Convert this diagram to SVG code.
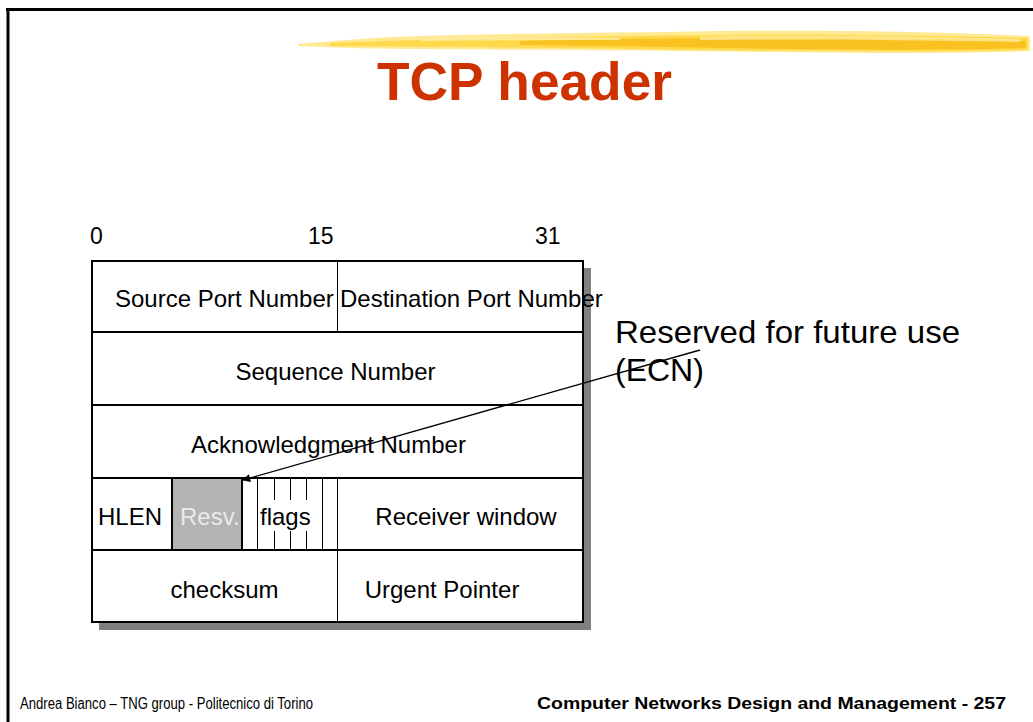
<svg xmlns="http://www.w3.org/2000/svg" width="1033" height="722" viewBox="0 0 1033 722">
<style>
text{font-family:"Liberation Sans",Arial,sans-serif;fill:#000}
.cell{font-size:24px}
.bit{font-size:23px}
.ln{stroke:#000;fill:none}
.foot{font-size:16px}
</style>
<defs>
<marker id="ah" viewBox="0 0 10 10" refX="9" refY="5" markerWidth="10" markerHeight="8" markerUnits="userSpaceOnUse" orient="auto">
<path d="M0,0 L10,5 L0,10 z" fill="#000"/>
</marker>
</defs>
<rect width="1033" height="722" fill="#fff"/>
<g id="frame">
<line x1="6" y1="9.5" x2="1033" y2="9.5" stroke="#000" stroke-width="3"/>
<line x1="8" y1="8" x2="8" y2="722" stroke="#000" stroke-width="3"/>
</g>
<g id="brush">
<path d="M298,44 C340,40 380,37 420,36 C520,33 620,33 720,31 C820,30 920,31 1030,36 L1030,51 C940,54 860,53 760,52 C640,50 520,50 420,49 C380,49 340,48 298,46 z" fill="#FFE680" opacity="0.85"/>
<path d="M330,43 C420,39 520,37 640,36 C760,34 880,34 1028,38 L1028,50 C920,52 820,51 700,50 C580,48 460,47 330,46 z" fill="#FFD43B" opacity="0.8"/>
<path d="M520,41 C640,38 780,37 900,38 C960,39 1000,40 1026,41 L1026,48 C960,50 880,50 780,49 C680,47 600,46 520,45 z" fill="#F7BA12" opacity="0.75"/>
<path d="M700,37 C800,35 900,36 1020,39 L1020,42 C900,40 800,39 700,40 z" fill="#FFEFA8" opacity="0.7"/>
<path d="M420,39 C500,37 560,37 620,38 L620,40 C560,40 500,40 420,41 z" fill="#FFF4C0" opacity="0.6"/>
</g>
<g id="title">
<text x="524.5" y="100" font-size="54" font-weight="bold" text-anchor="middle" style="fill:#CC3300" textLength="295" lengthAdjust="spacingAndGlyphs">TCP header</text>
</g>
<g id="bit-labels">
<text class="bit" x="90" y="244">0</text>
<text class="bit" x="308" y="244">15</text>
<text class="bit" x="535" y="244">31</text>
</g>
<g id="table">
<rect x="99" y="268" width="492" height="362" fill="#808080"/>
<rect x="92" y="261" width="491" height="361" fill="#fff" stroke="#000" stroke-width="2"/>
<rect x="172" y="478" width="70" height="72" fill="#B3B3B3" stroke="#000" stroke-width="2"/>
<g class="ln" stroke-width="2">
<line x1="92" y1="332" x2="583" y2="332"/>
<line x1="92" y1="405" x2="583" y2="405"/>
<line x1="92" y1="478" x2="583" y2="478"/>
<line x1="92" y1="550" x2="583" y2="550"/>
</g>
<g class="ln" stroke-width="1">
<line x1="337.5" y1="261" x2="337.5" y2="332"/>
<line x1="337.5" y1="478" x2="337.5" y2="622"/>
<line x1="257.5" y1="478" x2="257.5" y2="550"/>
<line x1="322.5" y1="478" x2="322.5" y2="550"/>
<line x1="274.5" y1="478" x2="274.5" y2="500"/>
<line x1="274.5" y1="531" x2="274.5" y2="550"/>
<line x1="290.5" y1="478" x2="290.5" y2="500"/>
<line x1="290.5" y1="531" x2="290.5" y2="550"/>
<line x1="306.5" y1="478" x2="306.5" y2="500"/>
<line x1="306.5" y1="531" x2="306.5" y2="550"/>
</g>
</g>
<g id="field-source"><text class="cell" x="115" y="307">Source Port Number</text></g>
<g id="field-dest"><text class="cell" x="340" y="307">Destination Port Number</text></g>
<g id="field-seq"><text class="cell" x="335.5" y="380" text-anchor="middle">Sequence Number</text></g>
<g id="field-ack"><text class="cell" x="328.5" y="453" text-anchor="middle">Acknowledgment Number</text></g>
<g id="field-hlen"><text class="cell" x="98" y="525">HLEN</text></g>
<g id="field-resv"><text class="cell" x="180" y="525" style="fill:#EAEAEA">Resv.</text></g>
<g id="field-flags"><text class="cell" x="260" y="525">flags</text></g>
<g id="field-window"><text class="cell" x="466" y="525" text-anchor="middle">Receiver window</text></g>
<g id="field-checksum"><text class="cell" x="224.5" y="598" text-anchor="middle">checksum</text></g>
<g id="field-urgent"><text class="cell" x="442" y="598" text-anchor="middle">Urgent Pointer</text></g>
<g id="note">
<text x="615" y="343" font-size="32" textLength="345" lengthAdjust="spacingAndGlyphs">Reserved for future use</text>
<text x="615" y="381" font-size="32">(ECN)</text>
</g>
<g id="connectors">
<line x1="700" y1="350" x2="243" y2="480" stroke="#000" stroke-width="1.3" marker-end="url(#ah)"/>
</g>
<g id="footer">
<text class="foot" x="20" y="709" textLength="293" lengthAdjust="spacingAndGlyphs">Andrea Bianco – TNG group - Politecnico di Torino</text>
<text class="foot" x="537" y="709" font-weight="bold" textLength="469" lengthAdjust="spacingAndGlyphs">Computer Networks Design and Management - 257</text>
</g>
</svg>
